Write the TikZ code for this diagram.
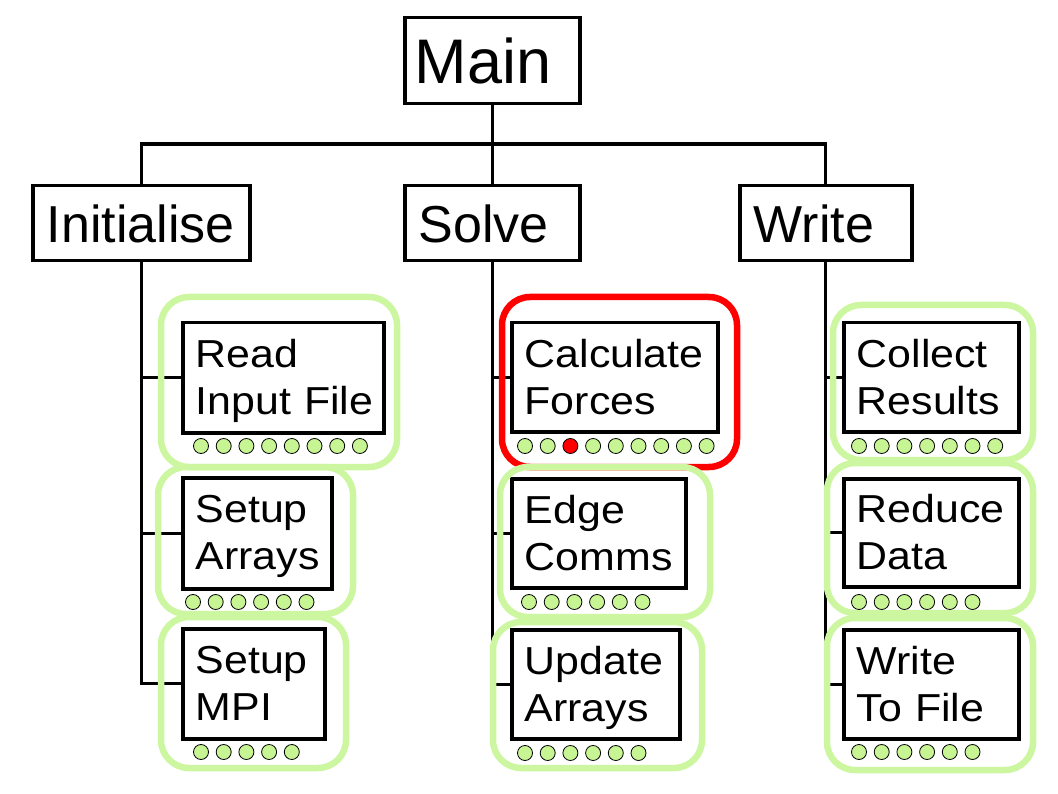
\documentclass[tikz,border=0pt]{standalone}
\usepackage{fontspec}
\setmainfont{Liberation Sans}
\newfontfamily\boxfont[FakeStretch=1.1]{Liberation Sans}
\definecolor{grn}{RGB}{204,247,160}
\definecolor{dotg}{RGB}{200,245,148}
\definecolor{redc}{RGB}{255,0,0}
\begin{document}
\begin{tikzpicture}[x=1pt,y=-1pt,
  mainbox/.style={draw, line width=3.5pt, fill=white, anchor=north west, inner xsep=10pt,
    inner ysep=0pt, text depth=0pt, align=left, font=\fontsize{63}{70}\selectfont},
  topbox/.style={draw, line width=3.5pt, fill=white, anchor=north west, inner xsep=14pt,
    inner ysep=0pt, text depth=0pt, align=left, font=\fontsize{52}{60}\selectfont},
  subbox/.style={draw, line width=3.5pt, fill=white, anchor=north west, inner xsep=13pt,
    inner ysep=0pt, text depth=48pt, align=left, font=\boxfont\fontsize{39}{47}\selectfont},
  conn/.style={line width=3.2pt},
  grp/.style={line width=6.5pt, draw=grn, rounded corners=28pt},
  hot/.style={line width=6.5pt, draw=redc, rounded corners=28pt},
  dot/.style={circle, draw=black, line width=0.8pt, fill=dotg, minimum size=15pt, inner sep=0pt},
  reddot/.style={dot, fill=redc}]
\useasboundingbox (0,0) rectangle (1058,794);

% top level
\node[mainbox, minimum width=175pt, minimum height=86pt, text width=155pt] (main) at (403,16) {Main};
\node[topbox, minimum width=217pt, minimum height=75pt, text width=189pt] (init) at (31,184) {Initialise};
\node[topbox, minimum width=175pt, minimum height=75pt, text width=147pt] (solve) at (403,184) {Solve};
\node[topbox, minimum width=172pt, minimum height=75pt, text width=144pt] (write) at (738,184) {Write};

% sub boxes
\node[subbox, minimum width=201pt, minimum height=110pt, text width=175pt] (rif) at (181,321) {\mbox{Read}\\\mbox{Input File}};
\node[subbox, minimum width=149pt, minimum height=111pt, text width=123pt] (sa) at (181,476) {\mbox{Setup}\\\mbox{Arrays}};
\node[subbox, minimum width=142pt, minimum height=110pt, text width=116pt] (smpi) at (181,627) {\mbox{Setup}\\\mbox{MPI}};
\node[subbox, minimum width=206pt, minimum height=109pt, text width=180pt] (cf) at (510,321) {\mbox{Calculate}\\\mbox{Forces}};
\node[subbox, minimum width=174pt, minimum height=109pt, text width=148pt] (ec) at (510,477) {\mbox{Edge}\\\mbox{Comms}};
\node[subbox, minimum width=168pt, minimum height=109pt, text width=142pt] (ua) at (510,628) {\mbox{Update}\\\mbox{Arrays}};
\node[subbox, minimum width=175pt, minimum height=109pt, text width=149pt] (cr) at (842,321) {\mbox{Collect}\\\mbox{Results}};
\node[subbox, minimum width=175pt, minimum height=108pt, text width=149pt] (rd) at (842,477) {\mbox{Reduce}\\\mbox{Data}};
\node[subbox, minimum width=175pt, minimum height=109pt, text width=149pt] (wtf) at (842,628) {\mbox{Write}\\\mbox{To File}};

% connectors
\draw[conn] (main.south) -- (solve.north);
\draw[conn] (init.north) -- ++(0,-40) -| (write.north);
\draw[conn] (init.south) |- (smpi.west);
\draw[conn] (init.south |- rif.west) -- (rif.west);
\draw[conn] (init.south |- sa.west) -- (sa.west);
\draw[conn] (solve.south) |- (ua.west);
\draw[conn] (solve.south |- cf.west) -- (cf.west);
\draw[conn] (solve.south |- ec.west) -- (ec.west);
\draw[conn] (write.south) |- (wtf.west);
\draw[conn] (write.south |- cr.west) -- (cr.west);
\draw[conn] (write.south |- rd.west) -- (rd.west);

% group outlines
\draw[grp] (161,297) rectangle (397,467);
\draw[grp] (158,467) rectangle (353,614);
\draw[grp] (161,617) rectangle (346,768);
\draw[hot] (502,297) rectangle (737,467);
\draw[grp] (500,467) rectangle (710,617);
\draw[grp] (493,622) rectangle (702,768);
\draw[grp] (833,305) rectangle (1033,460);
\draw[grp] (827,463) rectangle (1033,613);
\draw[grp] (827,618) rectangle (1033,770);

% status dots
\foreach \i in {0,...,7} \node[dot] (rifd\i) at ({201+22.7*\i},446) {};
\foreach \i in {0,...,5} \node[dot] (sad\i) at ({193+22.7*\i},602) {};
\foreach \i in {0,...,4} \node[dot] (smpid\i) at ({201+22.7*\i},752) {};
\foreach \i in {0,1,3,4,5,6,7,8} \node[dot] (cfd\i) at ({525+22.7*\i},446) {};
\node[reddot] (cfd2) at ({525+22.7*2},446) {};
\foreach \i in {0,...,5} \node[dot] (ecd\i) at ({529+22.7*\i},602) {};
\foreach \i in {0,...,5} \node[dot] (uad\i) at ({525+22.7*\i},753) {};
\foreach \i in {0,...,6} \node[dot] (crd\i) at ({859+22.7*\i},446) {};
\foreach \i in {0,...,5} \node[dot] (rdd\i) at ({859+22.7*\i},602) {};
\foreach \i in {0,...,5} \node[dot] (wtfd\i) at ({859+22.7*\i},752) {};
\end{tikzpicture}
\end{document}
